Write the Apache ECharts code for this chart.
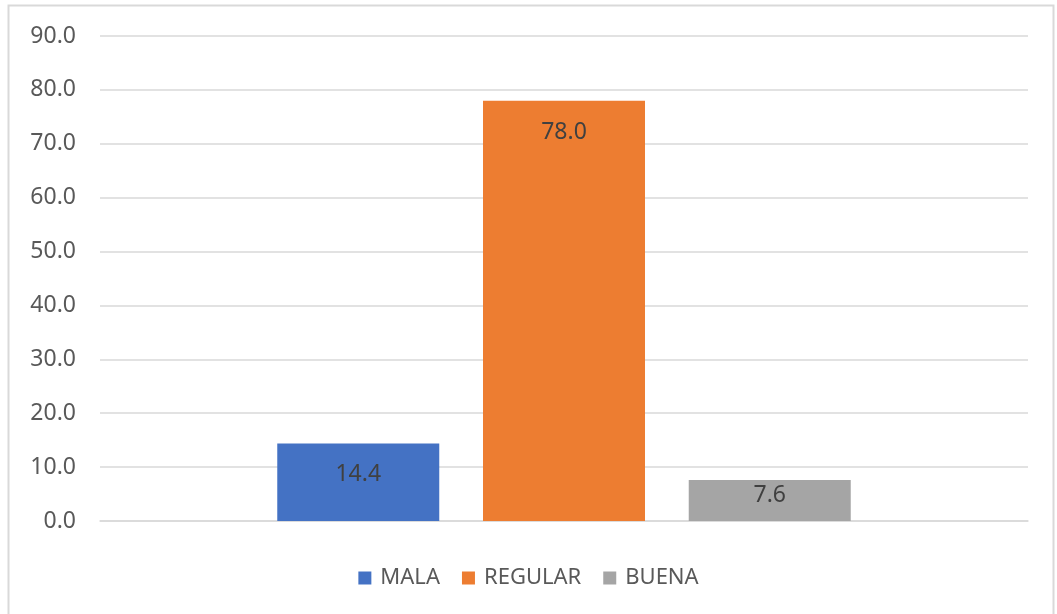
<!DOCTYPE html>
<html>
<head>
<meta charset="utf-8">
<script src="https://cdn.jsdelivr.net/npm/echarts@6/dist/echarts.min.js"></script>
<style>
  html, body { margin: 0; padding: 0; background: #fff; }
  #chart { width: 1057px; height: 614px; }
</style>
</head>
<body>
<div id="chart"></div>
<script>
const categories = [""];
const seriesNames = ["MALA", "REGULAR", "BUENA"];
const mala = [14.4];
const regular = [78.0];
const buena = [7.6];
const yTicks = { min: 0, max: 90, interval: 10 };

const colors = ["#4472C4", "#ED7D31", "#A5A5A5"];
const values = [mala, regular, buena];
const labelDist = [20, 20, 4];

const chart = echarts.init(document.getElementById("chart"));

chart.setOption({
  animation: false,
  color: colors,
  textStyle: { fontFamily: "Noto Sans" },
  graphic: [
    {
      type: "rect",
      shape: { x: 8.5, y: 5.5, width: 1045, height: 620 },
      style: { fill: "none", stroke: "#d9d9d9", lineWidth: 2 },
      silent: true,
    },
  ],
  grid: {
    left: 100,
    right: 29,
    top: 36,
    bottom: 93,
  },
  legend: {
    data: seriesNames,
    bottom: 20,
    left: "center",
    itemWidth: 13,
    itemHeight: 13,
    itemGap: 22,
    icon: "rect",
    textStyle: { fontSize: 22, color: "#595959", padding: [0, 0, 0, 4] },
  },
  xAxis: {
    type: "category",
    data: categories,
    axisLine: { lineStyle: { color: "#d9d9d9", width: 1.5 } },
    axisTick: { show: false },
    axisLabel: { show: false },
  },
  yAxis: {
    type: "value",
    min: yTicks.min,
    max: yTicks.max,
    interval: yTicks.interval,
    axisLine: { show: false },
    axisTick: { show: false },
    axisLabel: {
      color: "#595959",
      fontSize: 23,
      margin: 24,
      formatter: (v) => v.toFixed(1),
    },
    splitLine: { lineStyle: { color: "#d9d9d9", width: 1.5 } },
  },
  series: seriesNames.map((name, i) => ({
    name: name,
    type: "bar",
    data: values[i],
    barWidth: 162,
    barGap: "27%",
    label: {
      show: true,
      position: "insideTop",
      distance: labelDist[i],
      color: "#404040",
      fontSize: 23,
      formatter: (p) => p.value.toFixed(1),
    },
  })),
});
</script>
</body>
</html>
